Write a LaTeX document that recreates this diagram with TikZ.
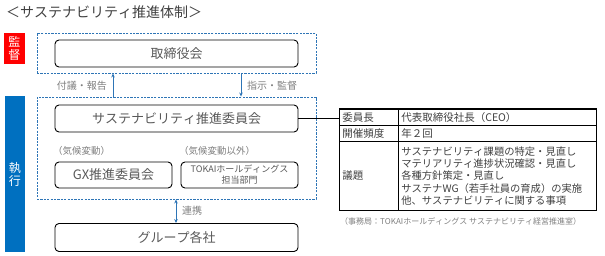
\documentclass[tikz,border=0pt]{standalone}
\usepackage{fontspec}
\setmainfont{Noto Sans CJK JP}[Kerning=Off]
\usetikzlibrary{arrows.meta,positioning}
\definecolor{dblue}{HTML}{2E75B6}
\definecolor{fblue}{HTML}{0070C0}
\definecolor{fred}{HTML}{FF0000}
\definecolor{tgray}{HTML}{595959}
\definecolor{lgray}{HTML}{7F7F7F}
\definecolor{tdark}{HTML}{404040}
\tikzset{
  orgbox/.style={draw=black,line width=0.9pt,rounded corners=4pt,inner sep=0pt,text=tgray,font=\fontsize{13}{15}\selectfont},
  dashbox/.style={draw=dblue,line width=0.9pt,dash pattern=on 2.2pt off 1.2pt,inner sep=0pt},
  sidebox/.style={inner sep=0pt,text=white,font=\fontsize{12}{13}\selectfont,align=center},
  smalllbl/.style={inner sep=0pt,text=lgray,font=\fontsize{9.5}{11}\selectfont},
  arr/.style={draw=dblue,line width=0.9pt,-{Stealth[length=4pt,width=3.5pt]}},
  darr/.style={draw=dblue,line width=0.9pt,{Stealth[length=4pt,width=3.5pt]}-{Stealth[length=4pt,width=3.5pt]}},
  cell/.style={draw=black,line width=0.6pt,inner sep=0pt,text=tdark,font=\fontsize{10.5}{12}\selectfont},
}
\begin{document}
\begin{tikzpicture}[x=1pt,y=-1pt]
\useasboundingbox (0,0) rectangle (605,256);
% title
\node[anchor=west,inner sep=0pt,text=tdark,font=\fontsize{14}{16}\selectfont] (title) at (6,12) {＜サステナビリティ推進体制＞};
% side boxes
\node[sidebox,fill=fred,minimum width=21pt,minimum height=31pt] (kansa) at (14.5,48.5) {監\\督};
\node[sidebox,fill=fblue,minimum width=20pt,minimum height=156pt] (shikko) at (15,174) {執\\行};
% dashed boxes
\node[dashbox,minimum width=279pt,minimum height=40pt] (dashA) at (176.5,53) {};
\node[dashbox,minimum width=279pt,minimum height=102pt] (dashB) at (176.5,148) {};
% boxes
\node[orgbox,minimum width=243pt,minimum height=27pt] (board) at (176.5,53.5) {取締役会};
\node[orgbox,minimum width=243pt,minimum height=27pt] (comm) at (176.5,118.5) {サステナビリティ推進委員会};
\node[orgbox,minimum width=117pt,minimum height=26pt] (gx) at (113.5,175) {GX推進委員会};
\node[orgbox,minimum width=117pt,minimum height=26pt,font=\fontsize{9}{11}\selectfont,align=center] (tokai) at (239.5,175) {TOKAIホールディングス\\担当部門};
\node[orgbox,minimum width=243pt,minimum height=28pt] (group) at (176.5,237.5) {グループ各社};
% labels
\node[smalllbl,anchor=west] (lclimate) at (53,151) {（気候変動）};
\node[smalllbl,anchor=west] (lother) at (179,151) {（気候変動以外）};
% arrows
\coordinate (xup) at (113,0);
\coordinate (xdown) at (241,0);
\coordinate (xlink) at (176,0);
\draw[arr] (dashB.north -| xup) -- (dashA.south -| xup);
\draw[arr] (dashA.south -| xdown) -- (dashB.north -| xdown);
\draw[darr] (dashB.south -| xlink) -- (group.north -| xlink);
\node[smalllbl,anchor=east,font=\fontsize{10}{11}\selectfont] (lreport) at (107,86) {付議・報告};
\node[smalllbl,anchor=west,font=\fontsize{10}{11}\selectfont] (ldirect) at (247,86) {指示・監督};
\node[smalllbl,anchor=west,font=\fontsize{10}{11}\selectfont] (llink) at (182,211) {連携};
% table
\node[cell,minimum width=59pt,minimum height=16pt,anchor=north west,text width=53pt,align=left] (c11) at (339,109) {委員長};
\node[cell,minimum width=198pt,minimum height=16pt,anchor=north west,text width=192pt,align=left] (c12) at (398,109) {代表取締役社長（CEO）};
\node[cell,minimum width=59pt,minimum height=16pt,anchor=north west,text width=53pt,align=left] (c21) at (339,125) {開催頻度};
\node[cell,minimum width=198pt,minimum height=16pt,anchor=north west,text width=192pt,align=left] (c22) at (398,125) {年２回};
\node[cell,minimum width=59pt,minimum height=69pt,anchor=north west,text width=53pt,align=left] (c31) at (339,141) {議題};
\node[cell,minimum width=198pt,minimum height=69pt,anchor=north west,text width=192pt,align=left,font=\fontsize{10.3}{12.3}\selectfont] (c32) at (398,141) {サステナビリティ課題の特定・見直し\\マテリアリティ進捗状況確認・見直し\\各種方針策定・見直し\\サステナWG（若手社員の育成）の実施\\他、サステナビリティに関する事項};
\draw[line width=1pt] (c11.north west) rectangle (c32.south east);
\draw[line width=0.8pt] (comm.east) -- (comm.east -| c11.west);
\node[anchor=north west,inner sep=0pt,text=lgray,font=\fontsize{8}{9}\selectfont] (foot) at (340,217) {（事務局：TOKAIホールディングス サステナビリティ経営推進室）};
\end{tikzpicture}
\end{document}
